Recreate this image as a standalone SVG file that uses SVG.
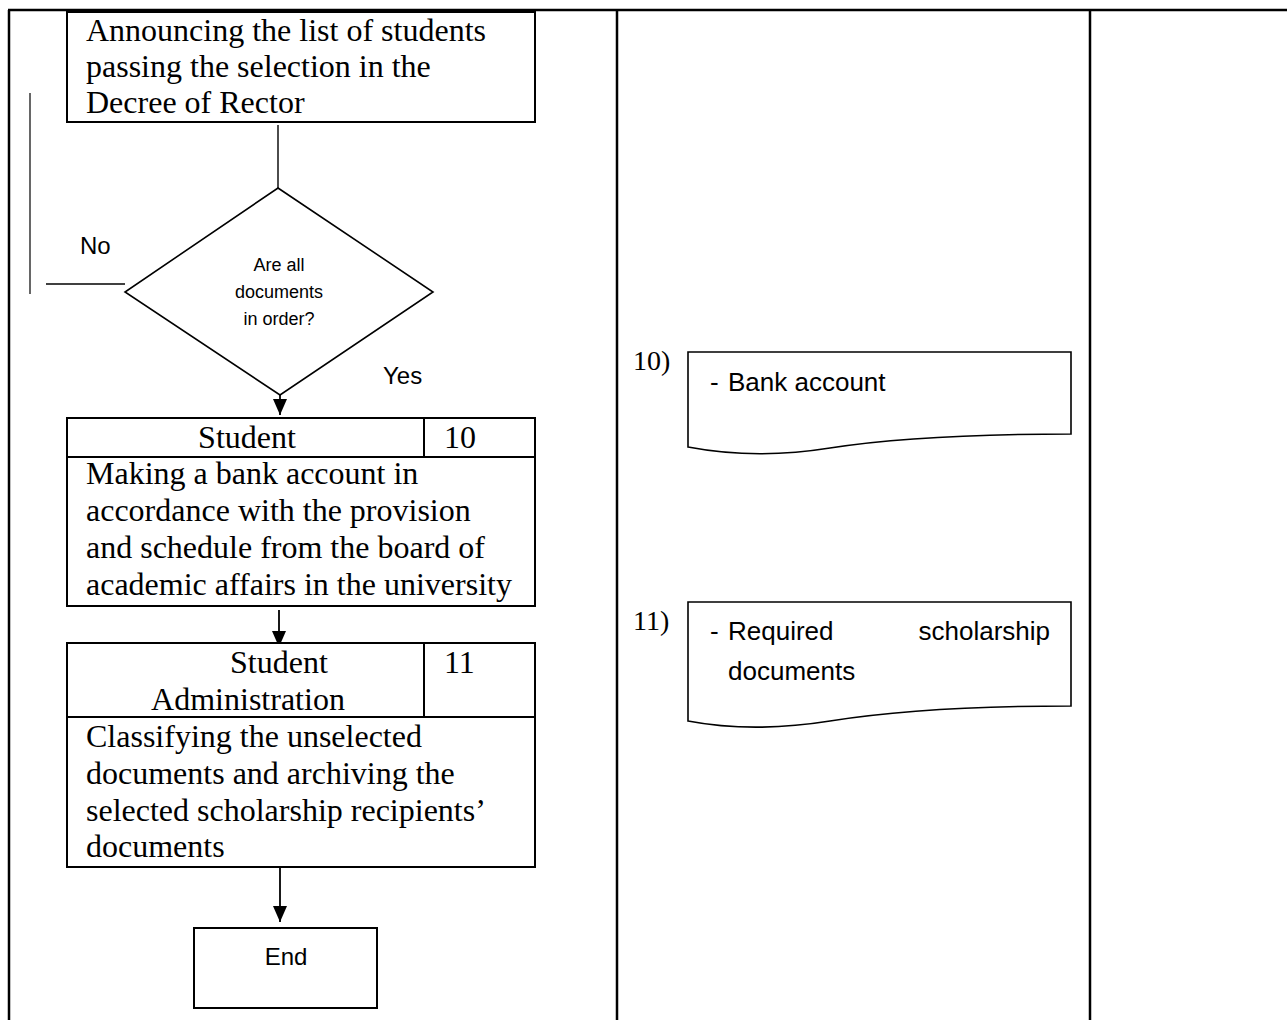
<svg xmlns="http://www.w3.org/2000/svg" width="1287" height="1020" viewBox="0 0 1287 1020">
  <style>
    .grid { stroke: #000; stroke-width: 2.5; fill: none; }
    .box { stroke: #000; stroke-width: 2; fill: #fff; }
    .shape { stroke: #000; stroke-width: 1.6; fill: #fff; }
    .wire { stroke: #000; stroke-width: 1.8; fill: none; }
    .serif { font-family: "Liberation Serif", "Times New Roman", serif; font-size: 32px; fill: #000; }
    .num { font-family: "Liberation Serif", "Times New Roman", serif; font-size: 28px; fill: #000; }
    .sans { font-family: "Liberation Sans", Arial, sans-serif; font-size: 24px; fill: #000; }
    .small { font-family: "Liberation Sans", Arial, sans-serif; font-size: 18px; fill: #000; text-anchor: middle; }
    .doc { font-family: "Liberation Sans", Arial, sans-serif; font-size: 26px; fill: #000; }
  </style>
  <defs>
    <marker id="arrow" viewBox="0 0 16 14" refX="16" refY="7" markerWidth="16" markerHeight="14" markerUnits="userSpaceOnUse" orient="auto">
      <path d="M0,0 L16,7 L0,14 Z" fill="#000"/>
    </marker>
  </defs>

  <rect width="1287" height="1020" fill="#fff"/>

  <!-- table frame: three swimlane columns -->
  <g id="table">
    <line class="grid" x1="8" y1="10" x2="1287" y2="10"/>
    <line class="grid" x1="9" y1="10" x2="9" y2="1020"/>
    <line class="grid" x1="617" y1="10" x2="617" y2="1020"/>
    <line class="grid" x1="1090" y1="10" x2="1090" y2="1020"/>
  </g>

  <!-- connectors -->
  <g id="connectors">
    <line class="wire" x1="278" y1="125" x2="278" y2="188" style="stroke-width:1.4"/>
    <line class="wire" x1="280" y1="372" x2="280" y2="415" marker-end="url(#arrow)"/>
    <line class="wire" x1="279" y1="610" x2="279" y2="647" marker-end="url(#arrow)"/>
    <line class="wire" x1="280" y1="858" x2="280" y2="922" marker-end="url(#arrow)"/>
    <line class="wire" x1="30" y1="93" x2="30" y2="294" style="stroke-width:1.2"/>
    <line class="wire" x1="46" y1="284" x2="125" y2="284" style="stroke-width:1.6"/>
    <text class="sans" x="80" y="254">No</text>
    <text class="sans" x="383" y="384">Yes</text>
  </g>

  <!-- announcement step -->
  <g id="announce">
    <rect class="box" x="67" y="12" width="468" height="110"/>
    <text class="serif" x="86" y="41">Announcing the list of students</text>
    <text class="serif" x="86" y="77">passing the selection in the</text>
    <text class="serif" x="86" y="113">Decree of Rector</text>
  </g>

  <!-- decision -->
  <g id="decision">
    <polygon class="shape" points="278,188 433,292 280,395 125,292"/>
    <text class="small" x="279" y="271">Are all</text>
    <text class="small" x="279" y="298">documents</text>
    <text class="small" x="279" y="325">in order?</text>
  </g>

  <!-- step 10 -->
  <g id="step10">
    <rect class="box" x="67" y="418" width="468" height="188"/>
    <line class="box" x1="67" y1="457" x2="535" y2="457"/>
    <line class="box" x1="424" y1="418" x2="424" y2="457"/>
    <text class="serif" x="247" y="448" text-anchor="middle">Student</text>
    <text class="serif" x="444" y="448">10</text>
    <text class="serif" x="86" y="484">Making a bank account in</text>
    <text class="serif" x="86" y="521">accordance with the provision</text>
    <text class="serif" x="86" y="558">and schedule from the board of</text>
    <text class="serif" x="86" y="595">academic affairs in the university</text>
  </g>

  <!-- step 11 -->
  <g id="step11">
    <rect class="box" x="67" y="643" width="468" height="224"/>
    <line class="box" x1="67" y1="717" x2="535" y2="717"/>
    <line class="box" x1="424" y1="643" x2="424" y2="717"/>
    <text class="serif" x="230" y="673">Student</text>
    <text class="serif" x="248" y="710" text-anchor="middle">Administration</text>
    <text class="serif" x="444" y="673">11</text>
    <text class="serif" x="86" y="747">Classifying the unselected</text>
    <text class="serif" x="86" y="784">documents and archiving the</text>
    <text class="serif" x="86" y="821">selected scholarship recipients’</text>
    <text class="serif" x="86" y="857">documents</text>
  </g>

  <!-- terminator -->
  <g id="end">
    <rect class="box" x="194" y="928" width="183" height="80"/>
    <text class="sans" x="286" y="965" text-anchor="middle">End</text>
  </g>

  <!-- document 10 -->
  <g id="doc10">
    <text class="num" x="633" y="370">10)</text>
    <path class="shape" d="M688,447 V352 H1071 V434 C980,434 900,437 830,448 C780,456 730,455 688,447 Z"/>
    <text class="doc" x="710" y="391">-</text>
    <text class="doc" x="728" y="391">Bank account</text>
  </g>

  <!-- document 11 -->
  <g id="doc11">
    <text class="num" x="633" y="630">11)</text>
    <path class="shape" d="M688,721 V602 H1071 V706 C980,706 900,710 830,721 C780,729 730,729 688,721 Z"/>
    <text class="doc" x="710" y="640">-</text>
    <text class="doc" x="728" y="640">Required</text>
    <text class="doc" x="1050" y="640" text-anchor="end">scholarship</text>
    <text class="doc" x="728" y="680">documents</text>
  </g>
</svg>
